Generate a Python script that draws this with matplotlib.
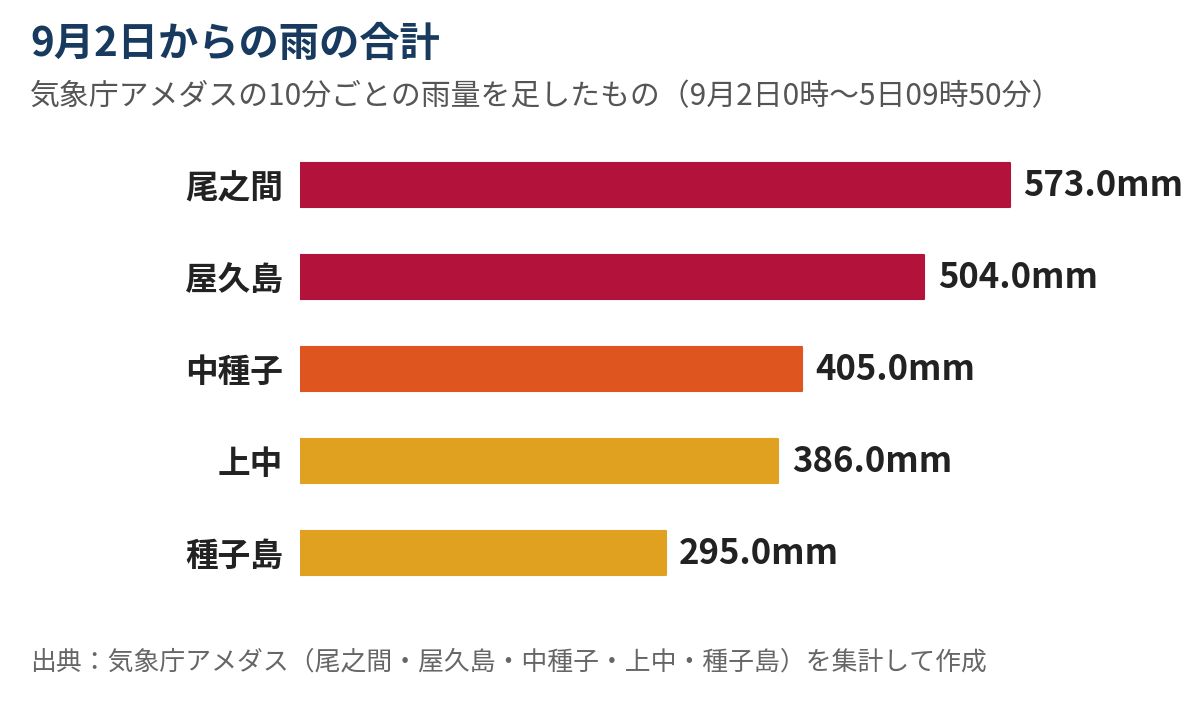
import matplotlib
matplotlib.use("Agg")
import matplotlib.pyplot as plt

plt.rcParams['font.family'] = ['Noto Sans CJK JP', 'DejaVu Sans']

# data
stations = ["尾之間", "屋久島", "中種子", "上中", "種子島"]
rain_mm = [573.0, 504.0, 405.0, 386.0, 295.0]
bar_colors = ["#B3133A", "#B3133A", "#DE5520", "#E0A020", "#E0A020"]

title = "9月2日からの雨の合計"
subtitle = "気象庁アメダスの10分ごとの雨量を足したもの（9月2日0時～5日09時50分）"
source = "出典：気象庁アメダス（尾之間・屋久島・中種子・上中・種子島）を集計して作成"

fig = plt.figure(figsize=(12, 7.02), dpi=100)
fig.patch.set_facecolor("white")

ax = fig.add_axes([0.25, 0.1467, 0.7228, 0.655])
pos = list(range(len(stations)))
ax.barh(pos, rain_mm, height=0.48, color=bar_colors, edgecolor=bar_colors,
        linewidth=1.5, joinstyle="round")
ax.set_xlim(0, 700)
ax.set_ylim(len(stations) - 0.5, -0.5)

for i, v in enumerate(rain_mm):
    ax.text(v + 11, i, f"{v:.1f}mm", va="center", ha="left",
            fontsize=25, fontweight="bold", color="#222222")

ax.set_yticks(pos)
ax.set_yticklabels(stations, fontsize=23.5, fontweight="bold", color="#222222")
ax.tick_params(axis="y", length=0, pad=12)
ax.set_xticks([])
for s in ax.spines.values():
    s.set_visible(False)

fig.text(0.025, 0.937, title, fontsize=29, fontweight="bold", color="#173A5E",
         va="center", ha="left")
fig.text(0.025, 0.862, subtitle, fontsize=21.5, color="#555555",
         va="center", ha="left")
fig.text(0.025, 0.057, source, fontsize=18.6, color="#666666",
         va="center", ha="left")

fig.savefig("out.png", dpi=100)
